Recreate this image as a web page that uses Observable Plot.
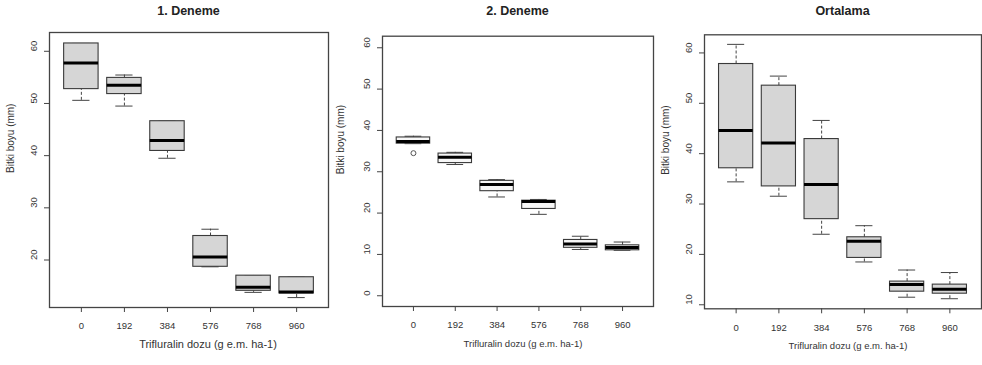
<!DOCTYPE html>
<html>
<head>
<meta charset="utf-8">
<script src="https://cdn.jsdelivr.net/npm/d3@7"></script>
<script src="https://cdn.jsdelivr.net/npm/@observablehq/plot@0.6"></script>
<style>
  html, body { margin: 0; padding: 0; background: #fff; }
  #wrap { position: relative; width: 982px; height: 365px; overflow: hidden; font-family: "Liberation Sans", Arial, sans-serif; }
  .panel { position: absolute; top: 0; height: 365px; }
  .title { position: absolute; top: 4px; font-weight: bold; font-size: 12.5px; color: #222; text-align: center; white-space: nowrap; }
  .panel svg { position: absolute; left: 0; top: 22px; }
</style>
</head>
<body>
<div id="wrap"></div>
<script>
// ---- data ----
const doses = [0, 192, 384, 576, 768, 960];
const panelTitles = ["1. Deneme", "2. Deneme", "Ortalama"];
const yLabel = "Bitki boyu (mm)";
const xLabel = "Trifluralin dozu (g e.m. ha-1)";

// Panel 1: 1. Deneme
const lo1  = [50.6, 49.5, 39.5, 18.7, 13.8, 12.8];
const q1_1 = [52.75, 51.8, 40.9, 18.7, 14.1, 13.6];
const med1 = [57.75, 53.5, 42.9, 20.6, 14.8, 13.85];
const q3_1 = [61.5, 54.9, 46.6, 24.6, 17.0, 16.7];
const hi1  = [61.5, 55.45, 46.6, 25.9, 17.0, 16.7];
const out1 = [];
const yTicks1 = [20, 30, 40, 50, 60];

// Panel 2: 2. Deneme
const lo2  = [36.8, 31.75, 23.9, 19.7, 11.2, 11.0];
const q1_2 = [36.8, 32.1, 25.3, 21.0, 11.6, 11.0];
const med2 = [37.3, 33.5, 26.9, 22.8, 12.55, 11.65];
const q3_2 = [38.3, 34.4, 27.8, 23.0, 13.5, 12.2];
const hi2  = [38.6, 34.7, 28.1, 23.3, 14.4, 13.0];
const out2 = [{dose: 0, v: 34.5}];
const yTicks2 = [0, 10, 20, 30, 40, 50, 60];

// Panel 3: Ortalama
const lo3  = [34.4, 31.55, 24.0, 18.5, 11.5, 11.2];
const q1_3 = [37.1, 33.5, 27.0, 19.3, 12.6, 12.2];
const med3 = [44.6, 42.1, 33.9, 22.6, 14.0, 13.1];
const q3_3 = [57.8, 53.5, 42.9, 23.4, 14.6, 14.0];
const hi3  = [61.7, 55.4, 46.6, 25.7, 16.9, 16.4];
const out3 = [];
const yTicks3 = [10, 20, 30, 40, 50, 60];

// ---- layout / style ----
const panels = [
  {left: 0, width: 330, ml: 49, mr: 2, mt: 10, mb: 58, ydom: [10.9, 63.6], fill: "#d6d6d6",
   lo: lo1, q1: q1_1, med: med1, q3: q3_1, hi: hi1, outs: out1, yTicks: yTicks1, xLabDx: 19, xLabSize: 11},
  {left: 330, width: 325, ml: 52, mr: 2, mt: 13.7, mb: 59, ydom: [-2.6, 62.8], fill: "#f7f7f7",
   lo: lo2, q1: q1_2, med: med2, q3: q3_2, hi: hi2, outs: out2, yTicks: yTicks2, xLabDx: 5, xLabSize: 9.5},
  {left: 655, width: 327, ml: 49, mr: 1, mt: 12.3, mb: 56.7, ydom: [9.2, 63.6], fill: "#d6d6d6",
   lo: lo3, q1: q1_3, med: med3, q3: q3_3, hi: hi3, outs: out3, yTicks: yTicks3, xLabDx: 5, xLabSize: 9.5}
];
const svgH = 343;
const ink = "#333";

const wrap = document.getElementById("wrap");
panels.forEach((p, k) => {
  const rows = doses.map((d, i) => ({i: i + 1, dose: d, lo: p.lo[i], q1: p.q1[i], med: p.med[i], q3: p.q3[i], hi: p.hi[i]}));
  const outs = p.outs.map(o => ({i: doses.indexOf(o.dose) + 1, v: o.v}));
  const hw = 0.4, sw = 0.2;
  const chart = Plot.plot({
    width: p.width, height: svgH,
    marginLeft: p.ml, marginRight: p.mr, marginTop: p.mt, marginBottom: p.mb,
    style: {fontFamily: "'Liberation Sans', Arial, sans-serif", fontSize: "9.5px", color: ink, background: "transparent"},
    x: {domain: [0.26, 6.74], axis: null},
    y: {domain: p.ydom, axis: null},
    marks: [
      // whiskers
      Plot.ruleX(rows, {x: "i", y1: "q3", y2: "hi", stroke: "#444", strokeWidth: 1, strokeDasharray: "3,2"}),
      Plot.ruleX(rows, {x: "i", y1: "lo", y2: "q1", stroke: "#444", strokeWidth: 1, strokeDasharray: "3,2"}),
      Plot.ruleY(rows, {y: "hi", x1: d => d.i - sw, x2: d => d.i + sw, stroke: "#444", strokeWidth: 1}),
      Plot.ruleY(rows, {y: "lo", x1: d => d.i - sw, x2: d => d.i + sw, stroke: "#444", strokeWidth: 1}),
      // boxes
      Plot.rect(rows, {x1: d => d.i - hw, x2: d => d.i + hw, y1: "q1", y2: "q3", fill: p.fill, stroke: "#3a3a3a", strokeWidth: 1.1}),
      // medians
      Plot.ruleY(rows, {y: "med", x1: d => d.i - hw, x2: d => d.i + hw, stroke: "#000", strokeWidth: 3}),
      // outliers
      Plot.dot(outs, {x: "i", y: "v", r: 2.5, stroke: "#555", strokeWidth: 1, fill: "none"}),
      // axes
      Plot.axisX([1, 2, 3, 4, 5, 6], {tickFormat: i => String(doses[i - 1]), tickSize: 5, tickPadding: 10, stroke: "#444", fill: ink, fontSize: 9.5, label: null}),
      Plot.axisY(p.yTicks, {tickSize: 5, tickFormat: () => "", stroke: "#444", label: null}),
      Plot.text(p.yTicks, {y: d => d, text: d => String(d), frameAnchor: "left", dx: -16, rotate: -90, fill: ink, fontSize: 9.5}),
      // axis titles
      Plot.text([yLabel], {frameAnchor: "left", dx: -p.ml + 10, dy: 3, rotate: -90, fill: ink, fontSize: 10}),
      Plot.text([xLabel], {frameAnchor: "bottom", dx: p.xLabDx, dy: 40, fill: ink, fontSize: p.xLabSize}),
      Plot.frame({stroke: "#444", strokeWidth: 1.3})
    ]
  });
  const div = document.createElement("div");
  div.className = "panel";
  div.style.left = p.left + "px";
  div.style.width = p.width + "px";
  const t = document.createElement("div");
  t.className = "title";
  t.textContent = panelTitles[k];
  const plotW = p.width - p.ml - p.mr;
  t.style.left = (p.ml) + "px";
  t.style.width = plotW + "px";
  div.appendChild(t);
  div.appendChild(chart);
  wrap.appendChild(div);
});
</script>
</body>
</html>
